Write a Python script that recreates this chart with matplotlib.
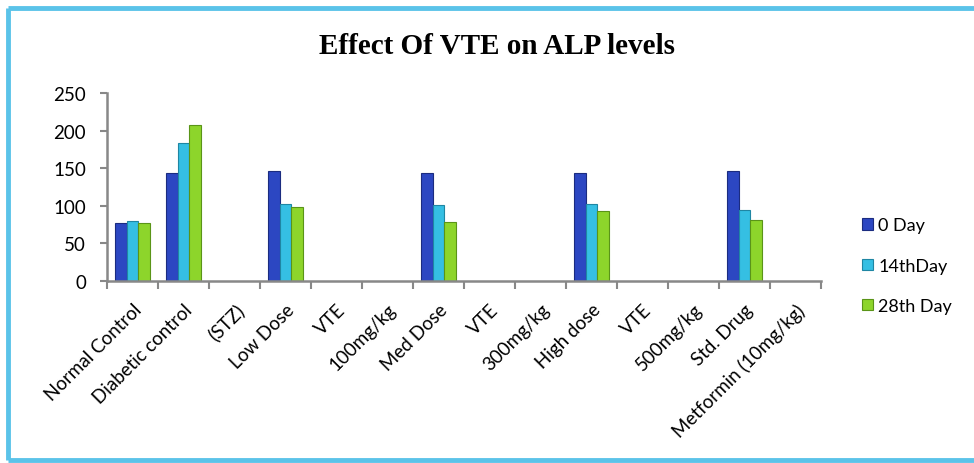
import matplotlib
matplotlib.use("Agg")
import matplotlib.pyplot as plt
import numpy as np
from matplotlib.lines import Line2D

categories = ["Normal Control", "Diabetic control", "(STZ)", "Low Dose", "VTE",
              "100mg/kg", "Med Dose", "VTE", "300mg/kg", "High dose", "VTE",
              "500mg/kg", "Std. Drug", "Metformin (10mg/kg)"]
series_names = ["0 Day", "14thDay", "28th Day"]
day0 = [77, 143, None, 146, None, None, 144, None, None, 144, None, None, 146, None]
day14 = [80, 184, None, 103, None, None, 101, None, None, 102, None, None, 95, None]
day28 = [77, 208, None, 98, None, None, 79, None, None, 93, None, None, 81, None]
colors = ["#2C47C2", "#35BFE3", "#8DD52B"]
edges = ["#1B2C80", "#1F86A3", "#5A9418"]

plt.rcParams['font.family'] = ['Lato', 'DejaVu Sans']
fig = plt.figure(figsize=(9.74, 4.64), dpi=100)
fig.patch.set_edgecolor('white')
fig.patch.set_linewidth(0)
ax = fig.add_axes([107/974, 1-282/464, (821-107)/974, (282-94)/464])

x = np.arange(len(categories))
w = 0.225
for i, (vals, c, e) in enumerate(zip([day0, day14, day28], colors, edges)):
    v = np.array([np.nan if a is None else a for a in vals], dtype=float)
    ax.bar(x + 0.5 + (i-1)*w, v, width=w, color=c, edgecolor=e, linewidth=0.8,
           label=series_names[i])

ax.set_xlim(0, len(categories))
ax.set_ylim(0, 250)
ax.set_yticks([0, 50, 100, 150, 200, 250])
ax.set_xticks(np.arange(len(categories)+1))
ax.set_xticklabels([])
ax.set_xticks(x + 0.5, minor=True)
ax.set_xticklabels(categories, minor=True, rotation=45, ha='right', va='top',
                   rotation_mode='anchor', fontsize=13.5)
ax.tick_params(axis='x', which='minor', length=0, pad=14)
ax.tick_params(axis='x', which='major', length=6, color='#888888', width=1.5)
ax.tick_params(axis='y', length=5, color='#888888', width=1.5, labelsize=13.5, pad=10)
for s in ['top', 'right']:
    ax.spines[s].set_visible(False)
for s in ['left', 'bottom']:
    ax.spines[s].set_color('#888888')
    ax.spines[s].set_linewidth(1.8)

fig.text(497/974, 1-47/464, "Effect Of VTE on ALP levels", ha='center', va='center',
         fontsize=21, fontweight='bold', family='Liberation Serif')

leg = fig.legend(loc='upper left', bbox_to_anchor=(846/974, 1-202/464), frameon=False,
                 fontsize=13, handlelength=0.6, handleheight=0.6, handletextpad=0.3,
                 labelspacing=1.35)

bc = '#5BC3E9'
y_top = 1 - 9/464
y_bot = 1 - 461/464
x_left = 8/974
for xs, ys in [([x_left, 1.0], [y_top, y_top]),
               ([x_left, x_left], [y_top, y_bot]),
               ([x_left, 1.0], [y_bot, y_bot])]:
    fig.add_artist(Line2D(xs, ys, transform=fig.transFigure, color=bc, linewidth=3.5,
                          solid_capstyle='butt'))

fig.savefig("out.png", dpi=100)
